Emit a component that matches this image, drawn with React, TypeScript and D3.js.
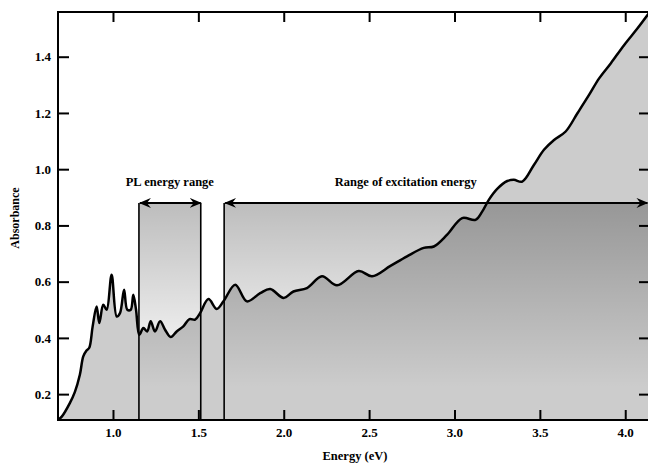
import * as d3 from "d3";
import { useEffect, useRef } from "react";

// absorbance spectrum
const energy = [
  0.677, 0.7, 0.748, 0.777, 0.806, 0.826, 0.845, 0.861, 0.881, 0.904, 0.92, 0.943, 0.963, 0.992,
  1.022, 1.041, 1.065, 1.084, 1.104, 1.119, 1.135, 1.154, 1.178, 1.2, 1.221, 1.246, 1.276, 1.305,
  1.338, 1.373, 1.412, 1.448, 1.481, 1.51, 1.559, 1.608, 1.647, 1.716, 1.784, 1.862, 1.921, 1.999,
  2.057, 2.136, 2.224, 2.312, 2.439, 2.517, 2.625, 2.722, 2.82, 2.879, 2.957, 3.045, 3.123, 3.162,
  3.201, 3.25, 3.309, 3.348, 3.397, 3.465, 3.524, 3.583, 3.651, 3.72, 3.788, 3.847, 3.916, 3.994,
  4.072, 4.14,
];
const absorbance = [
  0.108, 0.12, 0.169, 0.208, 0.269, 0.334, 0.355, 0.365, 0.441, 0.512, 0.453, 0.518, 0.5, 0.625,
  0.476, 0.488, 0.571, 0.5, 0.5, 0.553, 0.5, 0.411, 0.435, 0.423, 0.459, 0.423, 0.459, 0.429,
  0.403, 0.423, 0.441, 0.467, 0.465, 0.488, 0.538, 0.503, 0.53, 0.589, 0.53, 0.559, 0.574, 0.542,
  0.565, 0.577, 0.619, 0.587, 0.638, 0.619, 0.656, 0.69, 0.72, 0.725, 0.767, 0.826, 0.82, 0.849,
  0.891, 0.93, 0.958, 0.962, 0.956, 1.015, 1.069, 1.104, 1.134, 1.199, 1.264, 1.323, 1.377, 1.442,
  1.501, 1.556,
];

const xTicks = [1.0, 1.5, 2.0, 2.5, 3.0, 3.5, 4.0];
const yTicks = [0.2, 0.4, 0.6, 0.8, 1.0, 1.2, 1.4];

// annotation ranges (eV) and arrow level (absorbance)
const plRange = [1.152, 1.514];
const excRange = [1.651, 4.13];
const arrowLevel = 0.88;
const excLabelAt = 2.715;

const W = 648;
const H = 464;
const left = 58, right = 650, top = 12, bottom = 420;
const font = "'Liberation Serif', 'Times New Roman', serif";

const App = () => {
  const ref = useRef<SVGSVGElement>(null);

  useEffect(() => {
    const svg = d3.select(ref.current);
    svg.selectAll("*").remove();

    const x = d3.scaleLinear().domain([0.678, 4.145]).range([left, right]);
    const y = d3.scaleLinear().domain([0.108, 1.559]).range([bottom, top]);

    const defs = svg.append("defs");
    defs.append("clipPath").attr("id", "plot-clip")
      .append("rect")
      .attr("x", left).attr("y", top)
      .attr("width", right - left).attr("height", bottom - top);

    const grad = defs.append("linearGradient")
      .attr("id", "shade").attr("x1", 0).attr("y1", 0).attr("x2", 0).attr("y2", 1);
    grad.append("stop").attr("offset", 0).attr("stop-color", "#000").attr("stop-opacity", 0.26);
    grad.append("stop").attr("offset", 0.85).attr("stop-color", "#000").attr("stop-opacity", 0);

    defs.append("marker")
      .attr("id", "head")
      .attr("viewBox", "0 0 12 10")
      .attr("refX", 11).attr("refY", 5)
      .attr("markerWidth", 12).attr("markerHeight", 10)
      .attr("markerUnits", "userSpaceOnUse")
      .attr("orient", "auto-start-reverse")
      .append("path")
      .attr("d", "M0,0 L12,5 L0,10 L4,5 Z")
      .attr("fill", "#000");

    const data = energy.map((e, i) => [e, absorbance[i]] as [number, number]);

    const plot = svg.append("g").attr("clip-path", "url(#plot-clip)");

    const area = d3.area<[number, number]>()
      .x(d => x(d[0]))
      .y0(y(0.108))
      .y1(d => y(d[1]))
      .curve(d3.curveCatmullRom.alpha(0.5));

    const line = d3.line<[number, number]>()
      .x(d => x(d[0]))
      .y(d => y(d[1]))
      .curve(d3.curveCatmullRom.alpha(0.5));

    plot.append("path").attr("d", area(data)).attr("fill", "#cccccc");

    // shaded bands
    [plRange, [excRange[0], 4.145]].forEach(r => {
      plot.append("rect")
        .attr("x", x(r[0])).attr("y", y(arrowLevel))
        .attr("width", x(r[1]) - x(r[0]))
        .attr("height", bottom - y(arrowLevel))
        .attr("fill", "url(#shade)");
    });

    plot.append("path").attr("d", line(data))
      .attr("fill", "none").attr("stroke", "#000").attr("stroke-width", 2.5)
      .attr("stroke-linejoin", "round");

    // band edges
    [plRange[0], plRange[1], excRange[0]].forEach(e => {
      plot.append("line")
        .attr("x1", x(e)).attr("x2", x(e))
        .attr("y1", y(arrowLevel)).attr("y2", bottom)
        .attr("stroke", "#000").attr("stroke-width", 1.6);
    });

    // arrows
    [plRange, excRange].forEach(r => {
      svg.append("line")
        .attr("x1", x(r[0]) + 1).attr("x2", x(r[1]))
        .attr("y1", y(arrowLevel)).attr("y2", y(arrowLevel))
        .attr("stroke", "#000").attr("stroke-width", 2)
        .attr("marker-start", "url(#head)").attr("marker-end", "url(#head)");
    });

    svg.append("text")
      .attr("x", x((plRange[0] + plRange[1]) / 2)).attr("y", 186)
      .attr("text-anchor", "middle")
      .attr("font-family", font).attr("font-weight", "bold").attr("font-size", 12.5)
      .text("PL energy range");

    svg.append("text")
      .attr("x", x(excLabelAt)).attr("y", 186)
      .attr("text-anchor", "middle")
      .attr("font-family", font).attr("font-weight", "bold").attr("font-size", 12.5)
      .text("Range of excitation energy");

    // axes, ticks pointing inward
    const styleAxis = (g: d3.Selection<SVGGElement, unknown, null, undefined>) => {
      g.select(".domain").remove();
      g.selectAll(".tick line").attr("stroke", "#000").attr("stroke-width", 2);
      g.selectAll(".tick text")
        .attr("font-family", font).attr("font-weight", "bold").attr("font-size", 13).attr("fill", "#000");
    };

    svg.append("g").attr("transform", `translate(0,${bottom})`)
      .call(d3.axisBottom(x).tickValues(xTicks).tickSizeInner(-10).tickSizeOuter(0)
        .tickPadding(8).tickFormat(d3.format(".1f")))
      .call(styleAxis);
    svg.append("g").attr("transform", `translate(0,${top})`)
      .call(d3.axisTop(x).tickValues(xTicks).tickSizeInner(-10).tickSizeOuter(0).tickFormat(() => ""))
      .call(styleAxis);
    svg.append("g").attr("transform", `translate(${left},0)`)
      .call(d3.axisLeft(y).tickValues(yTicks).tickSizeInner(-11).tickSizeOuter(0)
        .tickPadding(7).tickFormat(d3.format(".1f")))
      .call(styleAxis);
    svg.append("g").attr("transform", `translate(${right},0)`)
      .call(d3.axisRight(y).tickValues(yTicks).tickSizeInner(-11).tickSizeOuter(0).tickFormat(() => ""))
      .call(styleAxis);

    svg.append("rect")
      .attr("x", left).attr("y", top)
      .attr("width", right - left).attr("height", bottom - top)
      .attr("fill", "none").attr("stroke", "#000").attr("stroke-width", 2);

    svg.append("text")
      .attr("x", 355).attr("y", 460)
      .attr("text-anchor", "middle")
      .attr("font-family", font).attr("font-weight", "bold").attr("font-size", 12.5)
      .text("Energy (eV)");

    svg.append("text")
      .attr("transform", `translate(19,${218}) rotate(-90)`)
      .attr("text-anchor", "middle")
      .attr("font-family", font).attr("font-weight", "bold").attr("font-size", 12)
      .text("Absorbance");
  }, []);

  return (
    <svg ref={ref} width={W} height={H}
      style={{ position: "absolute", left: 0, top: 0, background: "#fff" }} />
  );
};

export default App;
